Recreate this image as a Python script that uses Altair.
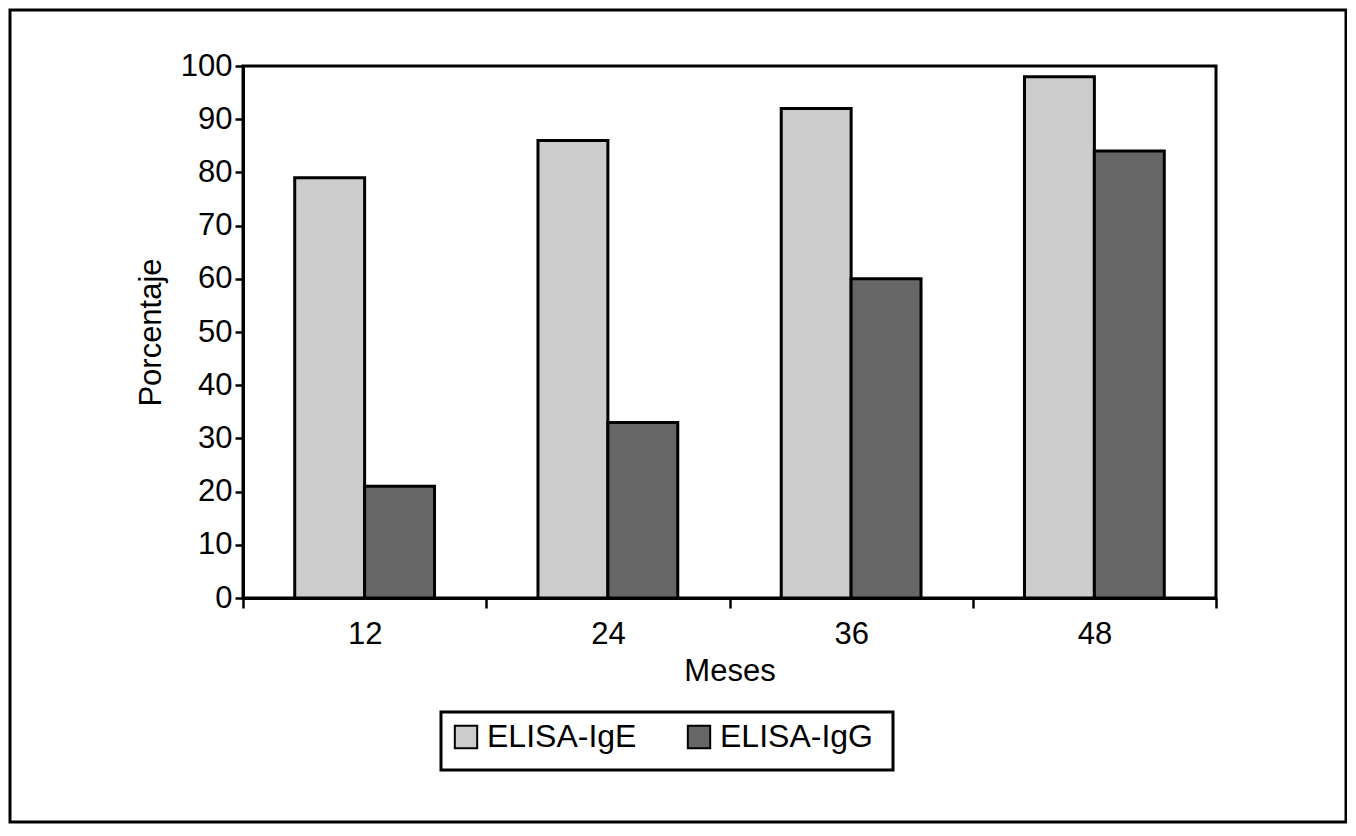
import altair as alt
import pandas as pd

meses = ["12", "24", "36", "48"]
ige = [79, 86, 92, 98]
igg = [21, 33, 60, 84]
series = ["ELISA-IgE", "ELISA-IgG"]
colors = ["#cccccc", "#666666"]

rows = []
for m, a, b in zip(meses, ige, igg):
    rows.append({"Meses": m, "Serie": series[0], "Porcentaje": a})
    rows.append({"Meses": m, "Serie": series[1], "Porcentaje": b})
df = pd.DataFrame(rows)

FONT = "Liberation Sans"
FS = 31

bars = alt.Chart(df).mark_bar(stroke="black", strokeWidth=3).encode(
    x=alt.X("Meses:N", sort=meses,
            scale=alt.Scale(paddingInner=0, paddingOuter=0),
            axis=alt.Axis(title="Meses", labelAngle=0, tickBand="extent",
                          tickSize=10, labelPadding=11, titlePadding=7)),
    xOffset=alt.XOffset("Serie:N", sort=series,
                        scale=alt.Scale(paddingOuter=0.74, paddingInner=0)),
    y=alt.Y("Porcentaje:Q", scale=alt.Scale(domain=[0, 100]),
            axis=alt.Axis(title="Porcentaje", values=list(range(0, 101, 10)),
                          tickSize=8, grid=False, labelPadding=3, titlePadding=13)),
    fill=alt.Fill("Serie:N", sort=series,
                  scale=alt.Scale(domain=series, range=colors),
                  legend=alt.Legend(title=None, orient="none", direction="horizontal",
                                    legendX=198, legendY=646, padding=9,
                                    symbolType="square", symbolSize=500,
                                    symbolStrokeColor="black", symbolStrokeWidth=2,
                                    labelFont=FONT, labelFontSize=32, labelColor="black",
                                    labelOffset=5, columnPadding=46)),
)

frame = alt.Chart(alt.Data(values=[{}])).mark_rect(
    fill=None, stroke="black", strokeWidth=3
).encode(
    x=alt.value(-233), x2=alt.value(1103), y=alt.value(-56), y2=alt.value(756)
)

legend_box = alt.Chart(alt.Data(values=[{}])).mark_rect(
    fill=None, stroke="black", strokeWidth=3
).encode(
    x=alt.value(198), x2=alt.value(650), y=alt.value(646), y2=alt.value(704)
)

chart = alt.layer(bars, frame, legend_box).properties(
    width=973, height=532, background="white",
    padding={"left": 235, "top": 58, "right": 131, "bottom": 228},
    autosize=alt.AutoSizeParams(type="none"),
).configure_view(
    stroke="black", strokeWidth=3
).configure_axis(
    domainColor="black", domainWidth=3, tickColor="black", tickWidth=2.5,
    labelFont=FONT, labelFontSize=FS, labelColor="black",
    titleFont=FONT, titleFontSize=FS, titleColor="black", titleFontWeight="normal",
)

chart.save("out.html", embed_options={"renderer": "svg", "actions": False})
